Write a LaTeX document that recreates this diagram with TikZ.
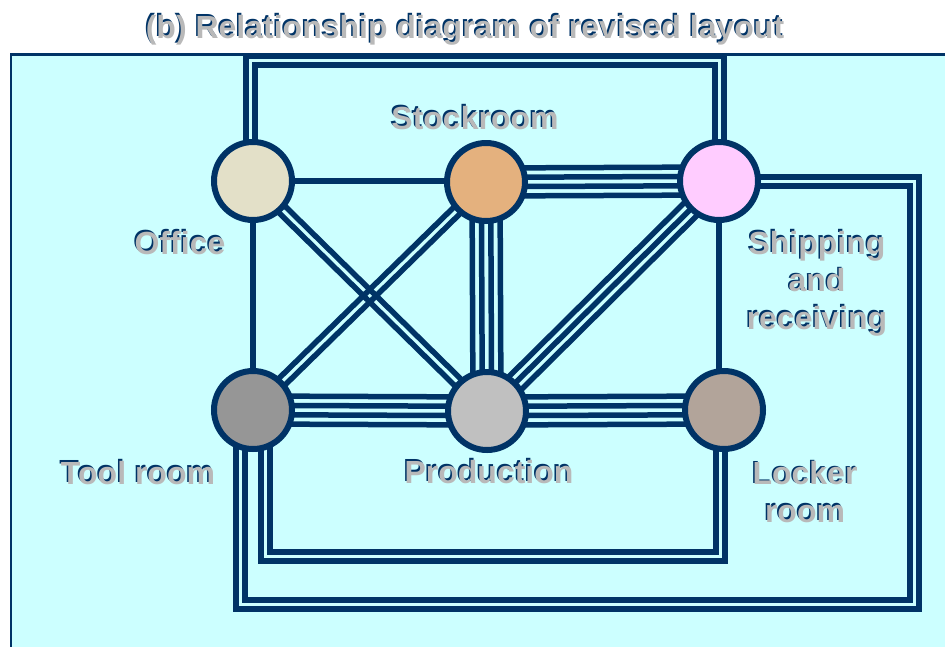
\documentclass[tikz,border=0pt]{standalone}
\usepackage{fontspec}
\setmainfont{Liberation Sans}
\usetikzlibrary{calc, backgrounds}

% n parallel lines between two rooms, offsets in pt
\newcommand{\bundle}[3]{%
  \foreach \off in {#3}
    \draw[link] ($(#1.center)!\off pt!90:(#2.center)$) -- ($(#2.center)!\off pt!-90:(#1.center)$);
}
% grey text with a navy edge
\newcommand{\shadowtext}[3]{%
  \node[lbl, text=navy] at ([xshift=-1.5pt, yshift=1.5pt] #2) {#3};
  \node[lbl] (#1) at (#2) {#3};
}

\begin{document}
\begin{tikzpicture}[x=1pt, y=-1pt,
    link/.style = {draw = navy, line width = 5.5pt},
    room/.style = {circle, draw = navy, line width = 6pt, minimum size = 78pt, inner sep = 0pt},
    lbl/.style = {anchor = base, align = center, text = labelgray, font = \fontsize{32}{37.5}\selectfont\bfseries}]
        \definecolor{navy}{RGB}{0,51,102}
        \definecolor{bgcyan}{RGB}{204,255,255}
        \definecolor{labelgray}{RGB}{185,185,185}
        \definecolor{officefill}{RGB}{227,224,200}
        \definecolor{stockfill}{RGB}{228,177,126}
        \definecolor{shipfill}{RGB}{255,204,255}
        \definecolor{toolfill}{RGB}{150,150,150}
        \definecolor{prodfill}{RGB}{192,192,192}
        \definecolor{lockerfill}{RGB}{178,164,154}

        \useasboundingbox (0,0) rectangle (945,646);
        \clip (0,0) rectangle (945,646);

        \node[room, fill = officefill] (office) at (253,181) {};
        \node[room, fill = stockfill] (stock) at (486,182) {};
        \node[room, fill = shipfill] (ship) at (719,181) {};
        \node[room, fill = toolfill] (tool) at (253,410) {};
        \node[room, fill = prodfill] (prod) at (487,411) {};
        \node[room, fill = lockerfill] (locker) at (724,410) {};

        \coordinate (top1) at (480,56);
        \coordinate (top2) at (480,65);
        \coordinate (east1) at (919,609);
        \coordinate (east2) at (910,600);
        \coordinate (south1) at (480,561);
        \coordinate (south2) at (480,552);

        \begin{scope}[on background layer]
        \fill[bgcyan] (10,53) rectangle (960,660);
        \draw[navy, line width = 2.5pt] (11,660) -- (11,54.25) -- (960,54.25);

        \draw[link] (office.center) -- (office.center -| stock.center);
        \draw[link] (office.center) -- (tool.center);
        \draw[link] (ship.center) -- (ship.center |- locker.center);
        \bundle{office}{prod}{-4.5,4.5}
        \bundle{stock}{tool}{-4.5,4.5}
        \bundle{ship}{prod}{-9,0,9}
        \bundle{stock}{ship}{-14,-4.67,4.67,14}
        \bundle{stock}{prod}{-14,-4.67,4.67,14}
        \bundle{tool}{prod}{-14,-4.67,4.67,14}
        \bundle{prod}{locker}{-14,-4.67,4.67,14}

        \path[link] ([xshift = -7pt] office.center) |- (top1) -| ([xshift = 5pt] ship.center);
        \path[link] ([xshift = 2pt] office.center) |- (top2) -| ([xshift = -4pt] ship.center);
        \path[link] ([yshift = 4pt] ship.center) -| (east1) -| ([xshift = -17pt] tool.center);
        \path[link] ([yshift = -5pt] ship.center) -| (east2) -| ([xshift = -8pt] tool.center);
        \path[link] ([xshift = 8pt] tool.center) |- (south1) -| ([xshift = 1pt] locker.center);
        \path[link] ([xshift = 17pt] tool.center) |- (south2) -| ([xshift = -8pt] locker.center);
        \end{scope}

        \shadowtext{title}{465,38}{(b) Relationship diagram of revised layout}
        \shadowtext{stocklabel}{475,129}{Stockroom}
        \shadowtext{officelabel}{180,254}{Office}
        \shadowtext{shiplabel}{817,329}{Shipping\\and\\receiving}
        \shadowtext{toollabel}{138,484}{Tool room}
        \shadowtext{prodlabel}{489,483}{Production}
        \shadowtext{lockerlabel}{805,522}{Locker\\room}
\end{tikzpicture}
\end{document}
